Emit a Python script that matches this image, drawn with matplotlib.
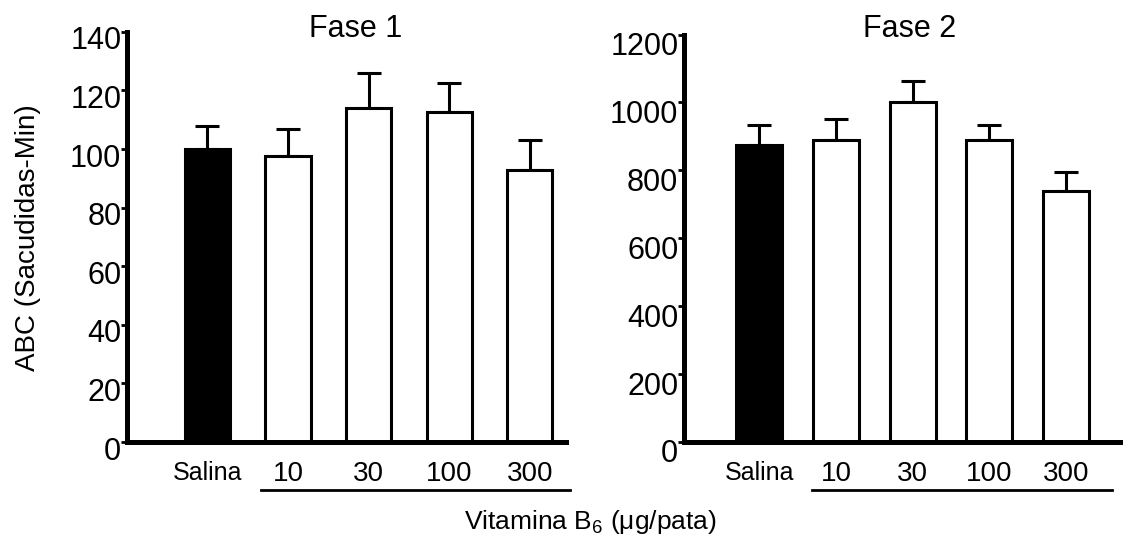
import matplotlib
matplotlib.use("Agg")
import matplotlib.pyplot as plt
import matplotlib.transforms as mtransforms

plt.rcParams['font.family'] = ['Liberation Sans', 'DejaVu Sans']
plt.rcParams['mathtext.fontset'] = 'custom'
plt.rcParams['mathtext.rm'] = 'Liberation Sans'
plt.rcParams['mathtext.it'] = 'Liberation Sans'

categories = ['Salina', '10', '30', '100', '300']
fase1_means = [100, 97.5, 114, 112.5, 93]
fase1_err = [8, 9.5, 12, 10, 10]
fase2_means = [875, 888, 1000, 888, 740]
fase2_err = [60, 62, 62, 45, 56]
bar_colors = ['black', 'white', 'white', 'white', 'white']


def draw_panel(fig, ax, means, errs, ymax, ystep, xlim, width, title, title_x, title_y, ydrop):
    x = range(len(categories))
    ax.bar(x, means, width=width, color=bar_colors, edgecolor='black',
           linewidth=2.2, zorder=2)
    ax.errorbar(x, means, yerr=[[0] * len(errs), errs], fmt='none',
                ecolor='black', elinewidth=2.2, capsize=8.5, capthick=2.2,
                zorder=1)
    ax.set_xlim(*xlim)
    ax.set_ylim(0, ymax)
    ax.set_yticks(range(0, ymax + 1, ystep))
    ax.tick_params(axis='y', labelsize=22, length=4, width=2, pad=0)
    ax.set_xticks(list(x))
    ax.set_xticklabels(categories)
    ax.tick_params(axis='x', length=0, pad=14, labelsize=20)
    ax.get_xticklabels()[0].set_fontsize(18)
    # tick labels sit a little below their ticks in the original
    off = mtransforms.ScaledTranslation(0, -ydrop / 100, fig.dpi_scale_trans)
    for lab in ax.get_yticklabels():
        lab.set_transform(lab.get_transform() + off)
    for s in ['top', 'right']:
        ax.spines[s].set_visible(False)
    for s in ['left', 'bottom']:
        ax.spines[s].set_linewidth(3.6)
    ax.text(title_x, title_y, title, transform=ax.transAxes, fontsize=22,
            ha='center', va='baseline')
    return mtransforms.blended_transform_factory(ax.transData, ax.transAxes)


fig = plt.figure(figsize=(11.23, 5.44), dpi=100)
ax1 = fig.add_axes([0.113, 0.1875, 0.391, 0.754])
ax2 = fig.add_axes([0.609, 0.1875, 0.391, 0.749])

t1 = draw_panel(fig, ax1, fase1_means, fase1_err, 140, 20, (-1.0, 4.45), 0.56,
                'Fase 1', 0.52, 0.988, 6)
ax1.plot([0.67, 4.5], [-0.118, -0.118], transform=t1, color='black',
         linewidth=2, clip_on=False)

t2 = draw_panel(fig, ax2, fase2_means, fase2_err, 1200, 200, (-0.98, 4.74), 0.6,
                'Fase 2', 0.515, 0.995, 9)
ax2.plot([0.69, 4.6], [-0.118, -0.118], transform=t2, color='black',
         linewidth=2, clip_on=False)

fig.text(0.025, 1 - 238 / 544, 'ABC (Sacudidas-Min)', rotation=90,
         fontsize=20, ha='center', va='center')
fig.text(590 / 1123, 1 - 522 / 544, r'Vitamina B$_6$ ($\mathregular{\mu}$g/pata)',
         fontsize=19, ha='center', va='center')

fig.savefig('out.png', dpi=100)
